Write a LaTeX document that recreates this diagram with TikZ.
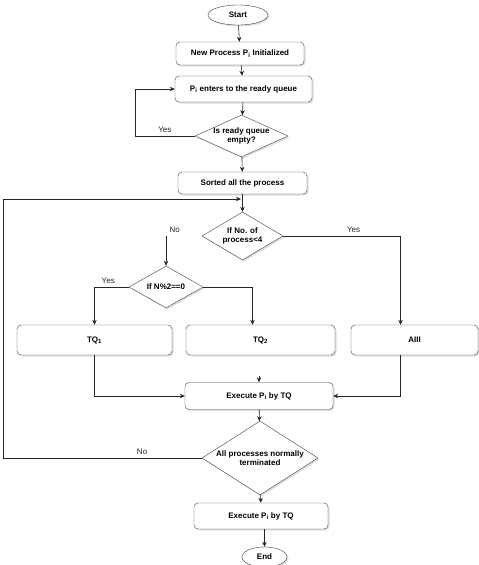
\documentclass[tikz,border=0pt]{standalone}
\usepackage{fontspec}
\setmainfont{Liberation Sans}
\usetikzlibrary{shapes.geometric, arrows.meta, shadows}

\begin{document}
\begin{tikzpicture}[x=1pt, y=-1pt,
  every node/.style={font=\fontsize{8}{9}\selectfont\bfseries},
  shade/.style={drop shadow={shadow xshift=1.5pt, shadow yshift=-1.5pt, fill=black!25}},
  proc/.style={rectangle, rounded corners=4pt, draw=black!75, fill=white,
               shade, inner sep=0pt, align=center},
  term/.style={ellipse, draw=black!75, fill=white, shade, inner sep=0pt},
  dec/.style={diamond, draw=black!75, fill=white, shade, inner sep=0pt},
  lbl/.style={font=\fontsize{8}{9}\selectfont},
  arr/.style={-{Stealth[length=5pt, width=4.5pt]}, line width=0.6pt, color=black!85},
]
\useasboundingbox (0,0) rectangle (479,565);

% top part
\node[term, minimum width=60, minimum height=20] (start) at (238,15) {Start};
\node[proc, minimum width=128, minimum height=23] (newproc) at (240,53.5) {New Process P\textsubscript{i} Initialized};
\node[proc, minimum width=137, minimum height=26] (enter) at (243.5,89) {P\textsubscript{i} enters to the ready queue};
\node[dec, minimum width=93, minimum height=42,
      label={[align=center]center:Is ready queue\\empty?}] (isempty) at (241.5,136) {};
\node[proc, minimum width=129, minimum height=22] (sorted) at (242.5,183) {Sorted all the process};

% choosing the quantum
\node[dec, minimum width=81, minimum height=48,
      label={[align=center]center:If No. of\\process<4}] (lessfour) at (242.5,236) {};
\node[dec, minimum width=74, minimum height=42,
      label={center:If N\%2==0}] (iseven) at (166,287) {};
\node[proc, minimum width=155, minimum height=30] (tqone) at (94.5,340) {TQ\textsubscript{1}};
\node[proc, minimum width=149, minimum height=30] (tqtwo) at (260.5,340) {TQ\textsubscript{2}};
\node[proc, minimum width=127, minimum height=30] (aiii) at (414.5,340) {AIII};

% execution
\node[proc, minimum width=148, minimum height=27] (execute) at (259,396) {Execute P\textsubscript{i} by TQ};
\node[dec, minimum width=116, minimum height=74,
      label={[align=center]center:All processes normally\\terminated}] (allterm) at (260,458) {};
\node[proc, minimum width=134, minimum height=26] (executeb) at (261,516) {Execute P\textsubscript{i} by TQ};
\node[term, minimum width=45, minimum height=20] (stop) at (264.5,557) {End};

\coordinate (merge) at (241,199);
\coordinate (nostart) at (166,236);
\coordinate (stub) at (259,376);

\draw[arr] (start) -- (newproc);
\draw[arr] (newproc) -- (enter);
\draw[arr] (enter) -- (isempty);
\draw[arr] (isempty.west) -- node[lbl, above]{Yes} ++(-60,0) |- (enter.west);
\draw[arr] (isempty) -- (sorted);
\draw[arr] (sorted.south -| lessfour) -- (lessfour);
\draw[arr] (lessfour.east) -| node[lbl, pos=0.3, above]{Yes} ([xshift=-14pt]aiii.north);
\draw[arr] (nostart) node[lbl, above right]{No} -- (iseven);
\draw[arr] (iseven.west) -| node[lbl, pos=0.3, above]{Yes} (tqone.north);
\draw[arr] (iseven.east) -| ([xshift=-8pt]tqtwo.north);
\draw[arr] (tqone.south) |- (execute.west);
\draw[arr] ([xshift=-14pt]aiii.south) |- (execute.east);
\draw[arr] (stub) -- (execute.north);
\draw[arr] (execute) -- (allterm);
\draw[arr] (allterm.west) -- node[lbl, pos=0.3, above]{No} ++(-199,0) |- (merge);
\draw[arr] (allterm) -- (executeb);
\draw[arr] (executeb.south -| stop) -- (stop);

\end{tikzpicture}
\end{document}
